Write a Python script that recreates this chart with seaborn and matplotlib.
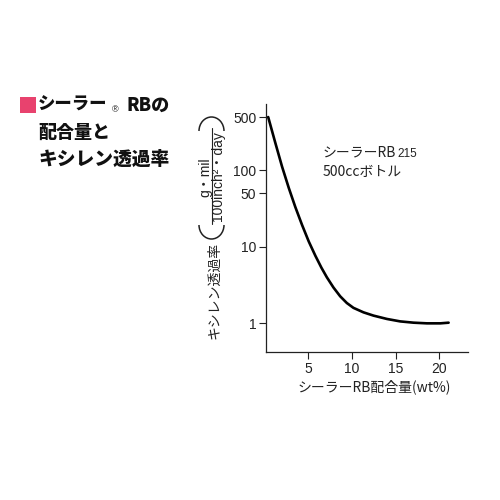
import matplotlib
matplotlib.use("Agg")
import matplotlib.pyplot as plt
from matplotlib.patches import Arc, Rectangle
from matplotlib.lines import Line2D
import seaborn as sns
import pandas as pd

# ---- data ----
content_wt = [0.4, 1.22, 1.99, 2.76, 3.51, 4.28, 5.05, 5.81, 6.50, 7.12, 7.88, 8.65,
              9.41, 10.17, 11.32, 12.47, 14.01, 15.53, 17.06, 18.60, 20.13, 21.08]
xylene_perm = [500, 229, 112, 58.9, 33.1, 19.3, 11.7, 7.6, 5.31, 3.98, 2.92, 2.24,
               1.83, 1.58, 1.38, 1.25, 1.13, 1.05, 1.01, 0.99, 0.99, 1.01]
x_ticks = [5, 10, 15, 20]
y_ticks = [1, 10, 50, 100, 500]
y_tick_labels = ["1", "10", "50", "100", "500"]

title_lines = ["シーラー", "RBの", "配合量と", "キシレン透過率"]
x_label = "シーラーRB配合量(wt%)"
y_label = "キシレン透過率"
y_unit_num = "g・mil"
y_unit_den = "100inch²・day"
note_line1 = "シーラーRB"
note_sub = "215"
note_line2 = "500ccボトル"

df = pd.DataFrame({"x": content_wt, "y": xylene_perm})

sns.set_style("ticks")
plt.rcParams["font.family"] = ["Noto Sans CJK JP", "DejaVu Sans"]
LAT = ["Liberation Sans", "Noto Sans CJK JP", "DejaVu Sans"]
JP = ["Noto Sans CJK JP", "DejaVu Sans"]

fig = plt.figure(figsize=(5, 5), dpi=100)
fig.patch.set_facecolor("white")

def px(x, y):
    return x / 500.0, 1 - y / 500.0

# axes: left 266, right 468, top 104, bottom 352 (pixels)
ax = fig.add_axes([266 / 500, 1 - 352 / 500, (468 - 266) / 500, (352 - 104) / 500])
sns.lineplot(data=df, x="x", y="y", ax=ax, color="black", linewidth=1.9)
ax.set_yscale("log")
ax.set_xlim(0.15, 23.3)
ax.set_ylim(0.417, 741)
ax.set_xticks(x_ticks)
ax.set_xticklabels([str(t) for t in x_ticks], fontfamily=LAT, fontsize=10)
ax.set_yticks(y_ticks)
ax.set_yticklabels(y_tick_labels, fontfamily=LAT, fontsize=10)
ax.minorticks_off()
ax.tick_params(axis="both", direction="out", length=5, width=0.8, colors="#222222", pad=2)
for s in ["top", "right"]:
    ax.spines[s].set_visible(False)
for s in ["left", "bottom"]:
    ax.spines[s].set_linewidth(0.9)
    ax.spines[s].set_color("#222222")
ax.set_xlabel("")
ax.set_ylabel("")

# x label
fig.text(*px(374, 387), x_label, ha="center", va="center", fontsize=10,
         family=JP, color="#222222")

# annotation in plot
fig.text(*px(323, 152), note_line1, ha="left", va="center", fontsize=10,
         family=JP, color="#222222")
fig.text(*px(397, 154), note_sub, ha="left", va="center", fontsize=8.5,
         family=LAT, color="#222222")
fig.text(*px(323, 172), note_line2, ha="left", va="center", fontsize=10,
         family=JP, color="#222222")

# y label (rotated)
fig.text(*px(214, 290), y_label, ha="center", va="center", rotation=90,
         fontsize=10, family=JP, color="#222222")
fig.text(*px(205.5, 177), y_unit_num, ha="center", va="center", rotation=90,
         fontsize=10, family=LAT, color="#222222")
fig.text(*px(218, 176), y_unit_den, ha="center", va="center", rotation=90,
         fontsize=10, family=LAT, color="#222222")
fig.add_artist(Line2D([211.5 / 500, 211.5 / 500], [1 - 128 / 500, 1 - 224 / 500],
                      transform=fig.transFigure, color="#222222", linewidth=0.8))
fig.add_artist(Arc(px(211.5, 131), 25 / 500, 28 / 500, theta1=0, theta2=180,
                   transform=fig.transFigure, color="#222222", linewidth=1.1))
fig.add_artist(Arc(px(211.5, 225), 25 / 500, 28 / 500, theta1=180, theta2=360,
                   transform=fig.transFigure, color="#222222", linewidth=1.1))

# title block
fig.add_artist(Rectangle(px(20, 113), 16 / 500, 16 / 500, transform=fig.transFigure,
                         facecolor="#E8426E", edgecolor="none"))
TW = "black"
fig.text(*px(38, 105), title_lines[0], ha="left", va="center", fontsize=12.5,
         fontweight=TW, family=JP, color="#111111")
fig.text(*px(112, 110), "®", ha="left", va="center", fontsize=6.5,
         family=LAT, color="#111111")
fig.text(*px(126, 105), title_lines[1], ha="left", va="center", fontsize=13,
         fontweight=TW, family=JP, color="#111111")
fig.text(*px(38, 132), title_lines[2], ha="left", va="center", fontsize=13,
         fontweight=TW, family=JP, color="#111111")
fig.text(*px(38, 159), title_lines[3], ha="left", va="center", fontsize=13.5,
         fontweight=TW, family=JP, color="#111111")

fig.savefig("out.png", dpi=100, facecolor="white")
